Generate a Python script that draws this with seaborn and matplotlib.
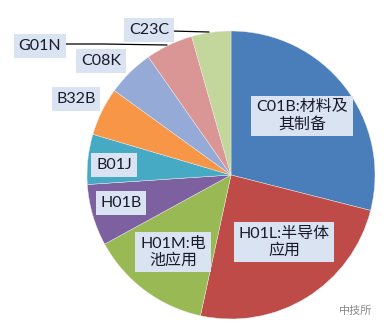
import matplotlib
matplotlib.use("Agg")
import matplotlib.pyplot as plt
import seaborn as sns

# ---- data (shares in %) ----
categories = ["C01B:材料及\n其制备", "H01L:半导体\n应用", "H01M:电\n池应用", "H01B", "B01J",
              "B32B", "C08K", "G01N", "C23C"]
values = [28.9, 24.4, 13.6, 6.9, 5.6, 5.4, 5.3, 5.3, 4.4]
colors_hex = ["#4A7EBB", "#BE4B48", "#98B954", "#7D60A0", "#46AAC5",
              "#F79646", "#95AAD6", "#D99694", "#C3D69B"]

sns.set_style("white")
plt.rcParams["font.family"] = ["Lato", "Noto Sans CJK SC", "DejaVu Sans"]
palette = sns.color_palette(colors_hex)

W, H = 386, 330
fig = plt.figure(figsize=(W / 100, H / 100), dpi=100)
ax = fig.add_axes([0, 0, 1, 1])

cx, cy, r = 231, H - 175, 144
ax.pie(values, colors=palette, startangle=90, counterclock=False,
       center=(cx, cy), radius=r, frame=True,
       wedgeprops=dict(linewidth=0.3, edgecolor="#eeeeee"))
ax.set_xlim(0, W)
ax.set_ylim(0, H)
ax.set_aspect("equal")
ax.axis("off")

# label positions in pixel coords (x, y from top)
label_pos = [(302, 116), (284, 242), (173, 252), (121, 203), (114, 165),
             (76, 99), (101, 61), (40, 46), (149, 30)]
box = dict(boxstyle="square,pad=0.3", facecolor="#d9e3f1", edgecolor="none")
for lab, (x, y) in zip(categories, label_pos):
    ax.text(x, H - y, lab, ha="center", va="center", fontsize=11.5,
            color="#1a1a2a", linespacing=1.2, bbox=box, zorder=5)

# leader lines
ax.plot([63, 103, 167], [H - 44, H - 44, H - 45], color="black", lw=0.9, zorder=4)
ax.plot([171, 209], [H - 31, H - 32], color="black", lw=0.9, zorder=4)

# watermark
ax.text(372, H - 311, "中技所", ha="right", va="center", fontsize=8,
        color="#8a8a8a", family=["Noto Sans CJK SC", "DejaVu Sans"])

fig.savefig("out.png", dpi=100, facecolor="white")
